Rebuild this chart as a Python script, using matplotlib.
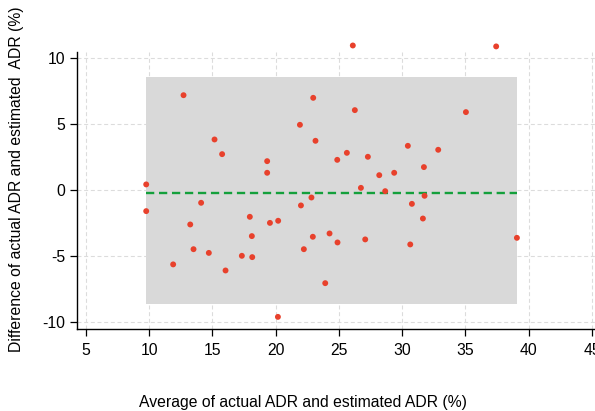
import numpy as np
import matplotlib
matplotlib.use("Agg")
import matplotlib.pyplot as plt

plt.rcParams['font.family'] = ['Liberation Sans', 'DejaVu Sans']
plt.rcParams['axes.unicode_minus'] = False

# Bland-Altman data: average (x) and difference (y) of actual vs estimated ADR
avg_adr = [12.72, 22.97, 21.92, 15.17, 23.15, 15.77, 19.33, 19.33, 24.87, 9.77,
           26.10, 37.43, 26.26, 35.04, 30.45, 32.85, 25.63, 27.29, 31.72, 28.19,
           29.37, 26.74, 28.66, 9.77, 14.11, 13.25, 13.51, 11.90, 14.72, 16.04,
           17.96, 18.12, 17.33, 18.15, 19.55, 20.20, 20.18, 22.00, 22.83, 22.94,
           22.23, 24.26, 23.92, 24.89, 31.77, 30.77, 31.64, 27.08, 30.64, 39.07]
diff_adr = [7.16, 6.96, 4.92, 3.81, 3.71, 2.70, 2.17, 1.29, 2.27, 0.41,
            10.92, 10.85, 6.03, 5.88, 3.33, 3.03, 2.80, 2.50, 1.72, 1.11,
            1.29, 0.15, -0.10, -1.61, -0.98, -2.62, -4.49, -5.64, -4.77, -6.10,
            -2.04, -3.50, -4.99, -5.09, -2.50, -2.34, -9.61, -1.18, -0.58, -3.55,
            -4.49, -3.30, -7.06, -3.98, -0.45, -1.06, -2.17, -3.75, -4.13, -3.63]

mean_diff = -0.22
loa_upper = 8.52
loa_lower = -8.62

x_ticks = [5, 10, 15, 20, 25, 30, 35, 40, 45]
y_ticks = [-10, -5, 0, 5, 10]

fig = plt.figure(figsize=(5.95, 4.11), dpi=100)
ax = fig.add_axes([77 / 595, 81.7 / 411, 520 / 595, 277.6 / 411])

x = np.array(avg_adr)
y = np.array(diff_adr)

# limits of agreement band and mean difference
ax.fill_between([x.min(), x.max()], loa_lower, loa_upper, color='#d9d9d9', lw=0, zorder=1)
ax.plot([x.min(), x.max()], [mean_diff, mean_diff], color='#14a03c', lw=1.7,
        linestyle=(0, (3.5, 2.0)), zorder=2)
ax.scatter(x, y, s=18, color='#e8412c', edgecolors='none', zorder=3, clip_on=False)

ax.set_xlim(4.3, 45.4)
ax.set_ylim(-10.55, 10.45)
ax.set_xticks(x_ticks)
ax.set_yticks(y_ticks)

ax.set_axisbelow(True)
ax.grid(True, color='#dcdcdc', lw=0.8, linestyle=(0, (3.6, 2.4)))

for side in ['top', 'right']:
    ax.spines[side].set_visible(False)
for side in ['left', 'bottom']:
    ax.spines[side].set_linewidth(1.0)

ax.tick_params(axis='both', direction='out', length=5, width=0.9, labelsize=11.3, color='black')
ax.tick_params(axis='x', pad=4.8)
ax.tick_params(axis='y', pad=3.6)

ax.set_xlabel('Average of actual ADR and estimated ADR (%)', fontsize=11.3)
ax.xaxis.set_label_coords(0.4346, -0.236)
ax.set_ylabel('Difference of actual ADR and estimated  ADR (%)', fontsize=11.3)
ax.yaxis.set_label_coords(-0.102, 0.541)

fig.savefig('out.png', dpi=100)
